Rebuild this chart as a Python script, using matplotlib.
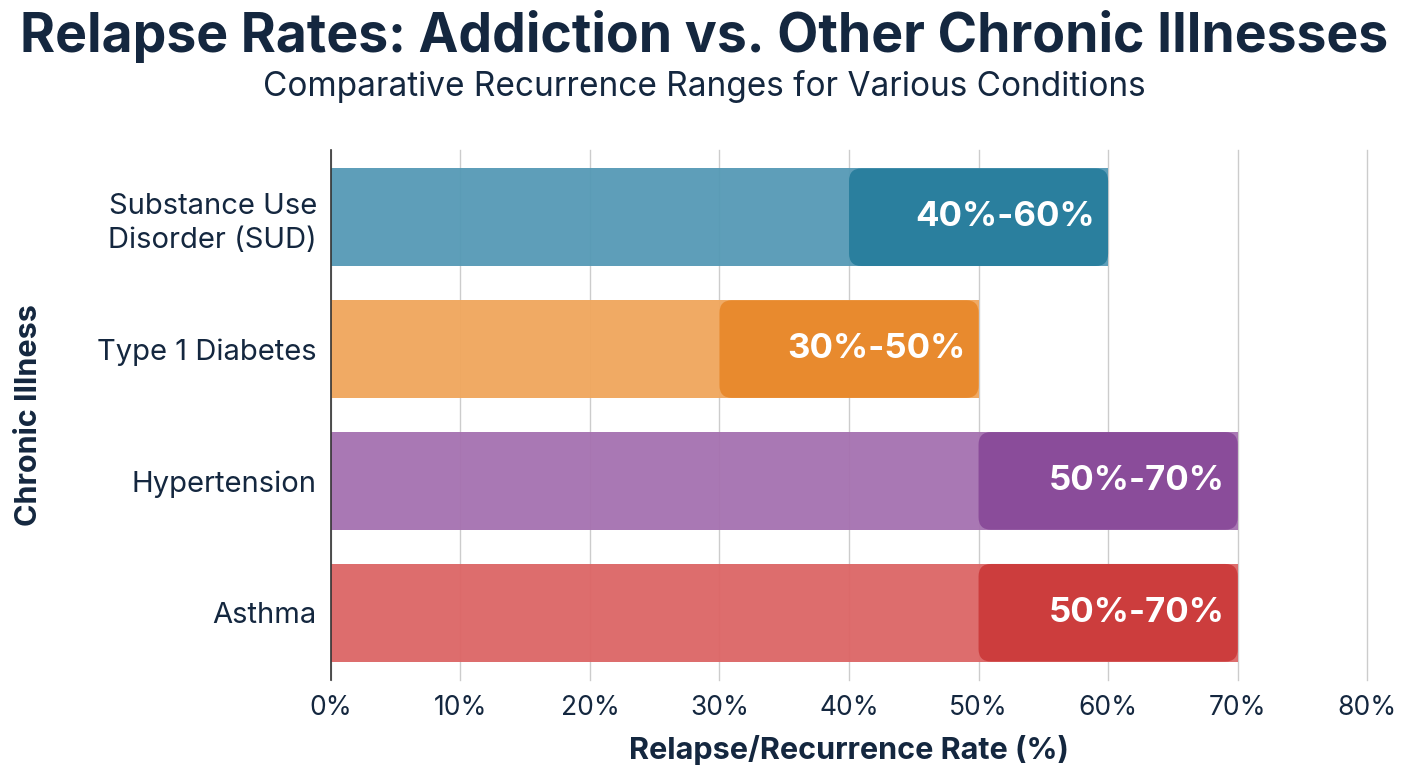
import matplotlib.pyplot as plt
from matplotlib.patches import FancyBboxPatch

plt.rcParams['font.family'] = ['Inter', 'DejaVu Sans']

# Data
conditions = ['Substance Use\nDisorder (SUD)', 'Type 1 Diabetes', 'Hypertension', 'Asthma']
low = [40, 30, 50, 50]
high = [60, 50, 70, 70]
range_labels = ['40%-60%', '30%-50%', '50%-70%', '50%-70%']
light_colors = ['#5599B5', '#F0A65C', '#A571B0', '#DC6565']
dark_colors = ['#2A7F9E', '#E88A2E', '#8A4C9A', '#CC3D3D']
xticks = [0, 10, 20, 30, 40, 50, 60, 70, 80]

navy = '#14273F'

fig = plt.figure(figsize=(14.08, 7.68), dpi=100)
ax = fig.add_axes([0.235, 0.1146, 0.736, 0.6901])

ypos = list(range(len(conditions)))[::-1]
bar_h = 0.74

# light bars from 0 to the upper bound
ax.barh(ypos, high, height=bar_h, color=light_colors, alpha=0.95, zorder=2)

# darker range segment with rounded corners
for y, lo, hi, c, lab in zip(ypos, low, high, dark_colors, range_labels):
    patch = FancyBboxPatch((lo, y - bar_h / 2), hi - lo, bar_h,
                           boxstyle='round,pad=0,rounding_size=0.95',
                           mutation_aspect=0.1, facecolor=c, edgecolor='none',
                           zorder=3)
    ax.add_patch(patch)
    ax.text(hi - 1.0, y, lab, ha='right', va='center', color='white',
            fontsize=25, fontweight='bold', zorder=4)

ax.set_xlim(0, 80)
ax.set_ylim(-0.51, 3.51)
ax.set_xticks(xticks)
ax.set_xticklabels([f'{t}%' for t in xticks], fontsize=19, color=navy)
ax.set_yticks(ypos)
ax.set_yticklabels(conditions, fontsize=21, color=navy, linespacing=1.3)
ax.tick_params(axis='both', length=0)
ax.tick_params(axis='x', pad=11)
ax.tick_params(axis='y', pad=10)

ax.grid(axis='x', color='#CCCCCC', linewidth=1, zorder=0)
ax.set_axisbelow(True)
for gl in ax.get_xgridlines():
    gl.set_clip_on(False)
for s in ['top', 'right', 'bottom']:
    ax.spines[s].set_visible(False)
ax.spines['left'].set_color('#333333')
ax.spines['left'].set_linewidth(1.2)

ax.set_xlabel('Relapse/Recurrence Rate (%)', fontsize=22, fontweight='bold',
              color=navy, labelpad=10)
ax.set_ylabel('Chronic Illness', fontsize=22, fontweight='bold', color=navy)
ax.yaxis.set_label_coords(-0.278, 0.5)

fig.text(0.5, 0.952, 'Relapse Rates: Addiction vs. Other Chronic Illnesses',
         ha='center', va='center', fontsize=38.5, fontweight='bold', color=navy)
fig.text(0.5, 0.887, 'Comparative Recurrence Ranges for Various Conditions',
         ha='center', va='center', fontsize=24, color=navy)

fig.savefig('out.png', dpi=100, facecolor='white')
